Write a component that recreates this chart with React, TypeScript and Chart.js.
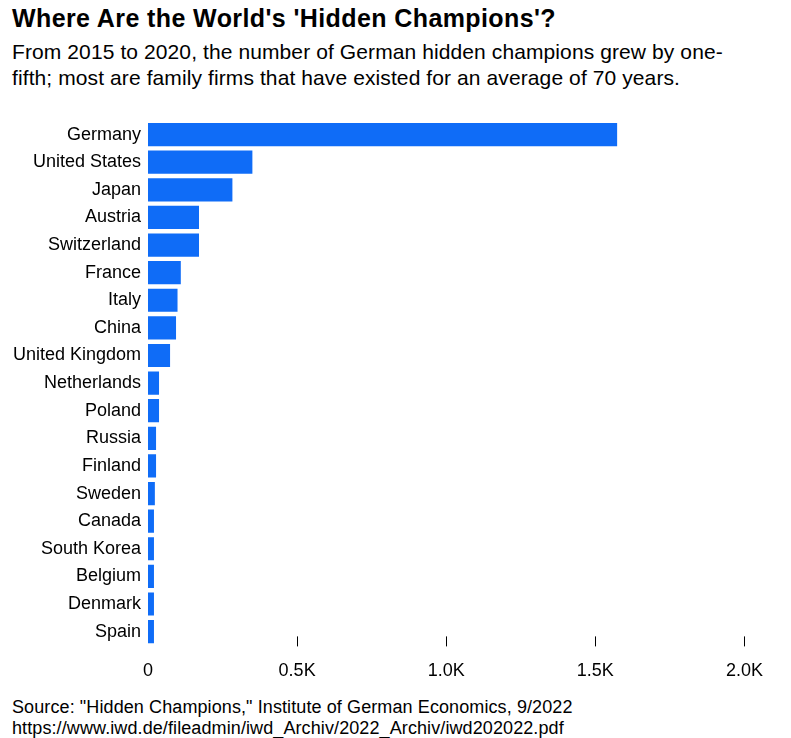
import { useEffect, useRef } from 'react'
import Chart from 'chart.js/auto'

const countries = [
    'Germany', 'United States', 'Japan', 'Austria', 'Switzerland', 'France', 'Italy', 'China',
    'United Kingdom', 'Netherlands', 'Poland', 'Russia', 'Finland', 'Sweden', 'Canada',
    'South Korea', 'Belgium', 'Denmark', 'Spain',
]
const champions = [1573, 350, 283, 171, 171, 110, 99, 94, 74, 37, 37, 27, 27, 23, 20, 20, 20, 20, 20]
const tickValues = [0, 500, 1000, 1500, 2000]
const tickLabels = ['0', '0.5K', '1.0K', '1.5K', '2.0K']

const FONT = '"Liberation Sans", Arial, sans-serif'

// short tick marks sitting just above the bottom of the plot, skipping 0
const tickMarks = {
    id: 'tickMarks',
    afterDraw(chart: any) {
        const { ctx, chartArea, scales } = chart
        ctx.save()
        ctx.strokeStyle = '#000'
        ctx.lineWidth = 1
        tickValues.slice(1).forEach((v) => {
            const x = Math.round(scales.x.getPixelForValue(v)) + 0.5
            ctx.beginPath()
            ctx.moveTo(x, chartArea.bottom - 9)
            ctx.lineTo(x, chartArea.bottom + 1)
            ctx.stroke()
        })
        ctx.restore()
    },
}

const BarChart = () => {
    const chartRef = useRef<HTMLCanvasElement>(null)

    useEffect(() => {
        if (!chartRef.current) return
        const myChart = new Chart(chartRef.current, {
            type: 'bar',
            data: {
                labels: countries,
                datasets: [
                    {
                        data: champions,
                        backgroundColor: '#0f6cf7',
                        categoryPercentage: 0.84,
                        barPercentage: 1,
                    },
                ],
            },
            options: {
                indexAxis: 'y',
                animation: false,
                responsive: true,
                maintainAspectRatio: false,
                layout: { padding: { left: 4, right: 10, top: 2 } },
                scales: {
                    x: {
                        min: 0,
                        max: 2000,
                        afterBuildTicks: (axis: any) => {
                            axis.ticks = tickValues.map((v) => ({ value: v }))
                        },
                        grid: { display: false, drawTicks: false },
                        border: { display: false },
                        ticks: {
                            color: '#000',
                            padding: 15,
                            maxRotation: 0,
                            font: { family: FONT, size: 18 },
                            callback: (_v: any, i: number) => tickLabels[i],
                        },
                    },
                    y: {
                        afterFit: (axis: any) => {
                            axis.width = 136
                        },
                        grid: { display: false, drawTicks: false },
                        border: { display: false },
                        ticks: {
                            color: '#000',
                            padding: 7,
                            autoSkip: false,
                            font: { family: FONT, size: 18 },
                        },
                    },
                },
                plugins: {
                    legend: { display: false },
                    tooltip: { enabled: false },
                },
            },
            plugins: [tickMarks],
        })
        return () => {
            myChart.destroy()
        }
    }, [])

    return <canvas ref={chartRef} />
}

export default function App() {
    return (
        <div style={{ fontFamily: FONT, color: '#000', width: 775, paddingLeft: 4 }}>
            <div style={{ fontSize: 25, fontWeight: 'bold', lineHeight: '24px', marginTop: -2, letterSpacing: 0.4 }}>
                Where Are the World's 'Hidden Champions'?
            </div>
            <div style={{ fontSize: 21, lineHeight: '26px', marginTop: 9, letterSpacing: 0.1 }}>
                From 2015 to 2020, the number of German hidden champions grew by one-
                <br />
                fifth; most are family firms that have existed for an average of 70 years.
            </div>
            <div style={{ position: 'relative', height: 594, width: 770, marginTop: 12, marginLeft: -4 }}>
                <BarChart />
            </div>
            <div style={{ fontSize: 18, lineHeight: '21px', letterSpacing: 0.1 }}>
                Source: "Hidden Champions," Institute of German Economics, 9/2022
                <br />
                https://www.iwd.de/fileadmin/iwd_Archiv/2022_Archiv/iwd202022.pdf
            </div>
        </div>
    )
}
